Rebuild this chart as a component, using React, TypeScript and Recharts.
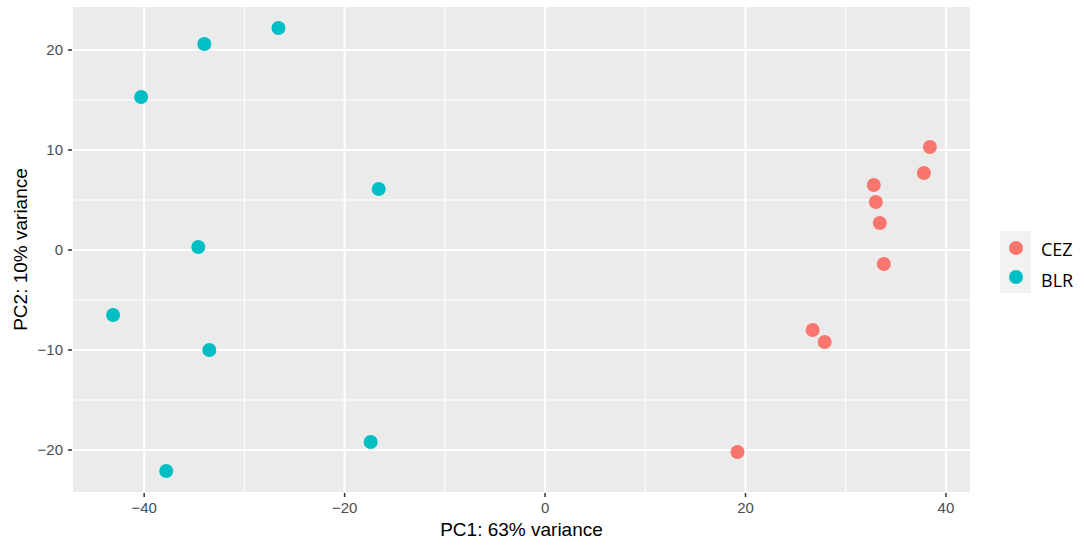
import { CartesianGrid, Legend, ReferenceLine, Scatter, ScatterChart, XAxis, YAxis } from 'recharts'

const groups = ['CEZ', 'BLR']
const groupColors = ['#F8766D', '#00BFC4']

const cezPC1 = [38.4, 37.8, 32.8, 33.0, 33.4, 33.8, 26.7, 27.9, 19.2]
const cezPC2 = [10.3, 7.7, 6.5, 4.8, 2.7, -1.4, -8.0, -9.2, -20.2]

const blrPC1 = [-40.3, -34.0, -26.6, -16.6, -34.6, -43.1, -33.5, -17.4, -37.8]
const blrPC2 = [15.3, 20.6, 22.2, 6.1, 0.3, -6.5, -10.0, -19.2, -22.1]

const xTicks = [-40, -20, 0, 20, 40]
const yTicks = [-20, -10, 0, 10, 20]
const xMinor = [-30, -10, 10, 30]
const yMinor = [-15, -5, 5, 15]

const toPoints = (xs: number[], ys: number[]) => xs.map((pc1, i) => ({ pc1, pc2: ys[i] }))

const seriesData = [toPoints(cezPC1, cezPC2), toPoints(blrPC1, blrPC2)]

const fmt = (v: number) => String(v).replace('-', '\u2212')
const font = '"Liberation Sans", Arial, Helvetica, sans-serif'
const tickStyle = { fontSize: 15, fill: '#4D4D4D', fontFamily: font }

const Dot = (p: any) => <circle cx={p.cx} cy={p.cy} r={7} fill={p.fill} />

function LegendBox({ payload }: any) {
  const items = [...(payload ?? [])].sort((a: any, b: any) => groups.indexOf(a.value) - groups.indexOf(b.value))
  return (
    <svg width={84} height={62} style={{ display: 'block' }}>
      <rect x={0} y={0} width={31} height={62} fill="#F2F2F2" />
      {items.map((item: any, i: number) => (
        <g key={item.value}>
          <circle cx={16} cy={17 + i * 29} r={7} fill={item.color} />
          <text x={41} y={25 + i * 31} fontSize={18} fontFamily='"Open Sans", sans-serif' fill="#000">
            {item.value}
          </text>
        </g>
      ))}
    </svg>
  )
}

export default function App() {
  return (
    <div style={{ position: 'absolute', left: 0, top: 0, background: '#fff' }}>
      <ScatterChart width={1084} height={546} margin={{ top: 6, right: 113, bottom: 5, left: 0 }}>
        <CartesianGrid fill="#EBEBEB" stroke="#FFFFFF" strokeWidth={2} />
        {xMinor.map((v) => (
          <ReferenceLine key={`x${v}`} x={v} stroke="#FFFFFF" strokeWidth={1} />
        ))}
        {yMinor.map((v) => (
          <ReferenceLine key={`y${v}`} y={v} stroke="#FFFFFF" strokeWidth={1} />
        ))}
        <XAxis
          type="number"
          dataKey="pc1"
          domain={[-47.2, 42.5]}
          ticks={xTicks}
          allowDataOverflow
          axisLine={false}
          tickLine={{ stroke: '#333333', strokeWidth: 1.5 }}
          tickSize={4}
          tickMargin={5}
          tick={tickStyle}
          tickFormatter={fmt}
          height={48}
          label={{
            content: ({ viewBox }: any) => (
              <text
                x={viewBox.x + viewBox.width / 2}
                y={viewBox.y + 43}
                textAnchor="middle"
                fontSize={19}
                fontFamily={font}
                fill="#000"
              >
                PC1: 63% variance
              </text>
            ),
          }}
        />
        <YAxis
          type="number"
          dataKey="pc2"
          domain={[-24.3, 24.4]}
          ticks={yTicks}
          allowDataOverflow
          axisLine={false}
          tickLine={{ stroke: '#333333', strokeWidth: 1.5 }}
          tickSize={4}
          tickMargin={5}
          tick={tickStyle}
          tickFormatter={fmt}
          width={72}
          label={{
            content: ({ viewBox }: any) => {
              const cx = viewBox.x + 27
              const cy = viewBox.y + viewBox.height / 2
              return (
                <text
                  x={cx}
                  y={cy}
                  transform={`rotate(-90, ${cx}, ${cy})`}
                  textAnchor="middle"
                  fontSize={19}
                  fontFamily={font}
                  fill="#000"
                >
                  PC2: 10% variance
                </text>
              )
            },
          }}
        />
        {groups.map((g, i) => (
          <Scatter
            key={g}
            name={g}
            data={seriesData[i]}
            fill={groupColors[i]}
            shape={Dot}
            isAnimationActive={false}
          />
        ))}
        <Legend
          layout="vertical"
          align="center"
          verticalAlign="middle"
          wrapperStyle={{ left: 1000, top: 231, width: 84 }}
          content={<LegendBox />}
        />
      </ScatterChart>
    </div>
  )
}
